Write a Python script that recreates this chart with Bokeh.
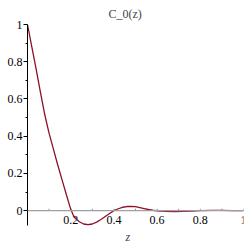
from bokeh.plotting import figure
from bokeh.models import Span, Title, FixedTicker, Range1d, ColumnDataSource
from bokeh.core.properties import value
from bokeh.embed import file_html
from bokeh.resources import INLINE

# curve C_0(z)
z_vals = [0.00, 0.02, 0.04, 0.06, 0.08, 0.10, 0.12, 0.14, 0.16, 0.18, 0.20,
          0.21, 0.22, 0.24, 0.26, 0.28, 0.30, 0.32, 0.34, 0.36, 0.38, 0.40,
          0.42, 0.44, 0.46, 0.48, 0.50, 0.52, 0.54, 0.56, 0.58, 0.60,
          0.64, 0.68, 0.72, 0.76, 0.80, 0.85, 0.90, 0.95, 1.00]
c_vals = [1.000, 0.880, 0.760, 0.635, 0.515, 0.415, 0.330, 0.245, 0.165, 0.085, 0.008,
          -0.020, -0.040, -0.060, -0.072, -0.076, -0.072, -0.062, -0.048, -0.032, -0.016, 0.000,
          0.010, 0.018, 0.022, 0.023, 0.021, 0.016, 0.011, 0.006, 0.002, -0.001,
          -0.004, -0.005, -0.004, -0.002, 0.000, 0.001, 0.001, 0.000, 0.000]

y_ticks = [0, 0.2, 0.4, 0.6, 0.8, 1]
y_tick_labels = ["0", "0.2", "0.4", "0.6", "0.8", "1"]
y_minor = [0.1, 0.3, 0.5, 0.7, 0.9]

x_tick_vals = [0.2, 0.4, 0.6, 0.8, 1.0]
x_tick_labels = ["0.2", "0.4", "0.6", "0.8", "1"]
x_minor = [0.1, 0.3, 0.5, 0.7, 0.9]

title_text = "C_0(z)"
x_label = "z"

SERIF = "Liberation Serif"

p = figure(width=249, height=245, output_backend="svg", toolbar_location=None,
           x_range=Range1d(0, 1), y_range=Range1d(-0.08, 1.0),
           min_border_left=27, min_border_right=6, min_border_top=24, min_border_bottom=20)
p.outline_line_color = None
p.xgrid.visible = False
p.ygrid.visible = False
p.background_fill_color = "white"
p.border_fill_color = "white"

p.title.text = title_text
p.title.align = "left"
p.title.text_font = SERIF
p.title.text_font_size = "12px"
p.title.text_font_style = "normal"
p.title.standoff = 8
p.title.offset = 81

p.xaxis.visible = False

ya = p.yaxis[0]
ya.ticker = FixedTicker(ticks=y_ticks, minor_ticks=y_minor)
ya.major_label_overrides = {t: l for t, l in zip(y_ticks, y_tick_labels)}
ya.axis_line_color = "black"
ya.axis_line_width = 1
ya.major_tick_line_color = "black"
ya.minor_tick_line_color = "black"
ya.major_tick_in = 0
ya.major_tick_out = 4
ya.minor_tick_in = 0
ya.minor_tick_out = 2
ya.major_label_standoff = 1
ya.major_label_text_font = SERIF
ya.major_label_text_font_size = "12px"
ya.major_label_text_color = "black"

# x axis drawn at y = 0
p.add_layout(Span(location=0, dimension="width", line_color="#a0a0a0", line_width=1.2))
all_x_ticks = sorted(x_minor + x_tick_vals)
tick_src = ColumnDataSource(dict(x=all_x_ticks, y0=[0] * len(all_x_ticks), y1=[0.01] * len(all_x_ticks)))
p.segment(x0="x", y0="y0", x1="x", y1="y1", source=tick_src, line_color="#909090", line_width=1)

lab_src = ColumnDataSource(dict(x=x_tick_vals, y=[0] * len(x_tick_vals), t=x_tick_labels))
p.text(x="x", y="y", text="t", source=lab_src, y_offset=5,
       text_align="center", text_baseline="top",
       text_font=value(SERIF), text_font_size="12px", text_color="black")

xt = Title(text=x_label, align="left", text_font=SERIF, text_font_size="12px",
           text_font_style="italic", standoff=4, offset=98)
p.add_layout(xt, "below")

p.line(z_vals, c_vals, line_color="#8c1028", line_width=1.3)

open("out.html", "w").write(file_html(p, INLINE))
